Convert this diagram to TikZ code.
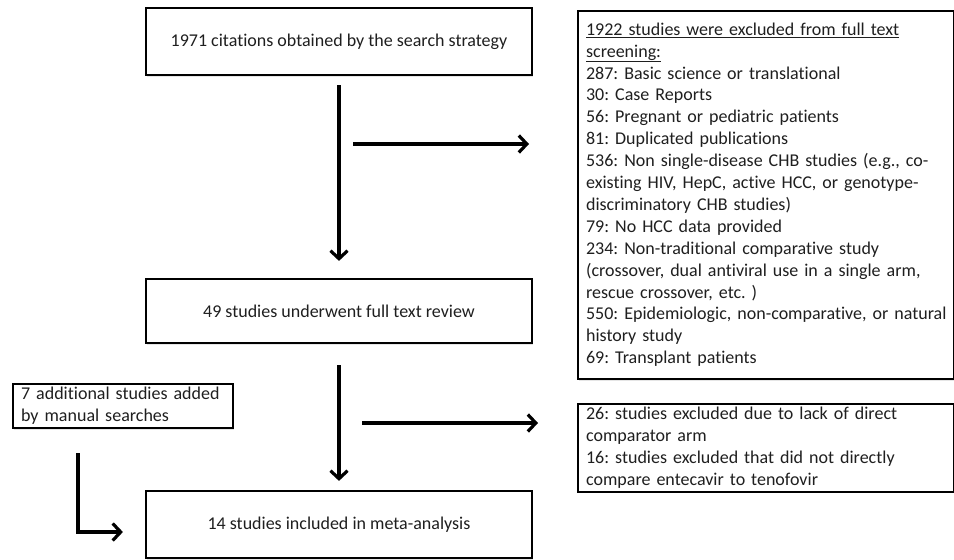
\documentclass[tikz,border=0pt]{standalone}
\usepackage{fontspec}
\setmainfont[Ligatures=NoCommon]{Carlito}
\frenchspacing
\usetikzlibrary{arrows.meta,shadows}
\newcommand{\ulx}[1]{\underline{#1}}
\begin{document}
\begin{tikzpicture}[x=1pt,y=-1pt,
  every node/.style={text=black!88},
  box/.style={draw=black, fill=white, line width=2.2pt, rectangle, inner sep=0pt,
    drop shadow={opacity=0.2, shadow xshift=1pt, shadow yshift=-1.5pt},
    font=\fontsize{18}{21.9}\selectfont},
  mainbox/.style={box, minimum width=386pt, align=center},
  listbox/.style={box, align=left, inner xsep=8pt},
  arr/.style={line width=3.4pt, draw=black,
    -{Straight Barb[length=8pt,width=17pt,line width=3.2pt]}}]
\useasboundingbox (0,0) rectangle (954,560);
\fill[white] (0,0) rectangle (954,560);

% main column
\node[mainbox, minimum height=67pt] (b1) at (339,41.5) {1971 citations obtained by the search strategy};
\node[mainbox, minimum height=64pt] (b2) at (339,311) {49 studies underwent full text review};
\node[mainbox, minimum height=67pt] (b3) at (339,524.5) {14 studies included in meta-analysis};

% exclusion box 1
\node[listbox, minimum width=376pt, minimum height=368pt, text width=360pt, anchor=north west] (ex1) at (577,10) {%
\begin{tabular}{@{}l@{}}
\ulx{1922 studies were excluded from full text}\\
\ulx{screening:}\\
287: Basic science or translational\\
30: Case Reports\\
56: Pregnant or pediatric patients\\
81: Duplicated publications\\
536: Non single-disease CHB studies (e.g., co-\\
existing HIV, HepC, active HCC, or genotype-\\
discriminatory CHB studies)\\
79: No HCC data provided\\
234: Non-traditional comparative study\\
(crossover, dual antiviral use in a single arm,\\
rescue crossover, etc. )\\
550: Epidemiologic, non-comparative, or natural\\
history study\\
69: Transplant patients
\end{tabular}};

% exclusion box 2
\node[listbox, minimum width=376pt, minimum height=85pt, text width=360pt, anchor=north west] (ex2) at (577,403) {%
\begin{tabular}{@{}l@{}}
26: studies excluded due to lack of direct\\
comparator arm\\
16: studies excluded that did not directly\\
compare entecavir to tenofovir
\end{tabular}};

% additional studies box
\node[listbox, minimum width=220pt, minimum height=44pt, text width=204pt, anchor=north west] (add) at (12,383) {%
\begin{tabular}{@{}l@{}}
7 additional studies added\\
by manual searches
\end{tabular}};

% connectors (yshift is in canvas units: negative = downward)
\draw[arr] ([yshift=-9pt]b1.south) -- ([yshift=17pt]b2.north);
\draw[arr] ([yshift=-21pt]b2.south) -- ([yshift=9pt]b3.north);

\coordinate (h1) at (353,144);
\draw[arr] (h1) -- ([xshift=-48pt]ex1.west |- h1);

\coordinate (h2) at (362,423);
\draw[arr] (h2) -- ([xshift=-39pt]ex2.west |- h2);

\coordinate (l1) at (78,453);
\coordinate (l2) at (78,532);
\draw[arr] (l1) -- (l2) -- ([xshift=-22pt]b3.west |- l2);
\end{tikzpicture}
\end{document}
